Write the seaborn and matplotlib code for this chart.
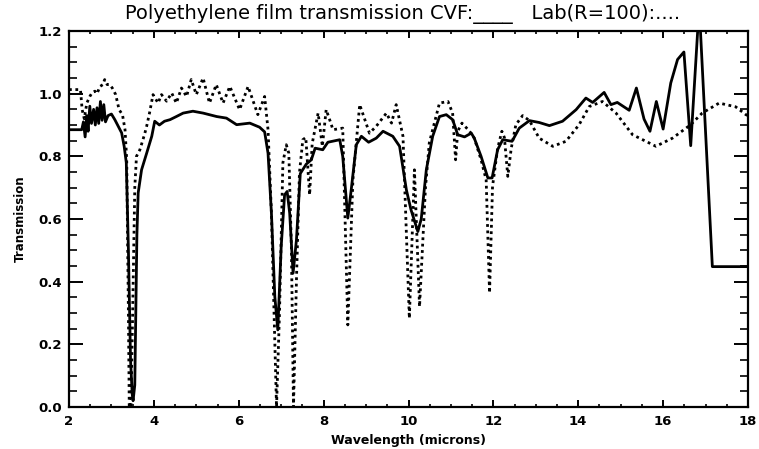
import numpy as np
import pandas as pd
import matplotlib
matplotlib.use("Agg")
import matplotlib.pyplot as plt
from matplotlib.ticker import MultipleLocator
import seaborn as sns

# ---- data ----
cvf_x = [2.00, 2.30, 2.34, 2.38, 2.42, 2.45, 2.49, 2.53, 2.58, 2.62, 2.66, 2.70, 2.74,
         2.78, 2.82, 2.86, 2.92, 3.00, 3.08, 3.16, 3.24, 3.30, 3.35, 3.40, 3.45, 3.49,
         3.51, 3.55, 3.60, 3.63, 3.71, 3.83, 3.95, 4.02, 4.13, 4.25, 4.38, 4.53, 4.69,
         4.92, 5.16, 5.48, 5.71, 5.95, 6.26, 6.49, 6.61, 6.69, 6.77, 6.85, 6.92, 7.00,
         7.08, 7.14, 7.20, 7.28, 7.36, 7.45, 7.59, 7.71, 7.80, 7.98, 8.10, 8.38, 8.45,
         8.57, 8.65, 8.77, 8.89, 9.06, 9.24, 9.40, 9.63, 9.79, 9.95, 10.06, 10.22, 10.30,
         10.42, 10.57, 10.73, 10.89, 11.04, 11.16, 11.32, 11.48, 11.55, 11.71, 11.87,
         11.97, 12.10, 12.22, 12.44, 12.61, 12.85, 13.08, 13.32, 13.63, 13.95, 14.18,
         14.34, 14.61, 14.77, 14.92, 15.20, 15.37, 15.55, 15.69, 15.84, 16.00, 16.18,
         16.34, 16.49, 16.65, 16.85, 17.16, 18.00]
cvf_y = [0.885, 0.885, 0.910, 0.862, 0.930, 0.880, 0.960, 0.905, 0.950, 0.900, 0.955,
         0.905, 0.975, 0.915, 0.965, 0.910, 0.930, 0.935, 0.917, 0.896, 0.875, 0.832,
         0.780, 0.500, 0.150, 0.040, 0.020, 0.070, 0.550, 0.683, 0.757, 0.810, 0.864,
         0.912, 0.900, 0.912, 0.917, 0.927, 0.938, 0.944, 0.938, 0.927, 0.922, 0.901,
         0.906, 0.893, 0.878, 0.810, 0.619, 0.352, 0.246, 0.512, 0.677, 0.688, 0.619,
         0.427, 0.534, 0.745, 0.775, 0.789, 0.826, 0.821, 0.845, 0.853, 0.800, 0.603,
         0.693, 0.837, 0.864, 0.845, 0.858, 0.880, 0.864, 0.832, 0.693, 0.629, 0.560,
         0.600, 0.757, 0.864, 0.927, 0.933, 0.917, 0.869, 0.862, 0.874, 0.858, 0.800,
         0.731, 0.731, 0.821, 0.853, 0.848, 0.890, 0.914, 0.908, 0.898, 0.912, 0.949,
         0.986, 0.972, 1.004, 0.965, 0.972, 0.947, 1.018, 0.919, 0.880, 0.975, 0.887,
         1.034, 1.109, 1.133, 0.834, 1.280, 0.448, 0.448]

lab_x = [2.00, 2.27, 2.31, 2.36, 2.42, 2.49, 2.54, 2.61, 2.66, 2.73, 2.80, 2.84, 2.90,
         2.96, 3.02, 3.10, 3.18, 3.26, 3.32, 3.36, 3.40, 3.42, 3.46, 3.50, 3.55, 3.59,
         3.67, 3.78, 3.83, 3.90, 3.98, 4.10, 4.18, 4.30, 4.42, 4.53, 4.65, 4.77, 4.88,
         5.00, 5.16, 5.31, 5.47, 5.63, 5.79, 6.02, 6.22, 6.45, 6.61, 6.69, 6.77, 6.89,
         6.96, 7.04, 7.12, 7.18, 7.24, 7.29, 7.36, 7.43, 7.51, 7.58, 7.67, 7.73, 7.87,
         7.97, 8.06, 8.17, 8.22, 8.45, 8.57, 8.69, 8.85, 9.08, 9.24, 9.48, 9.60, 9.71,
         9.87, 10.02, 10.14, 10.26, 10.40, 10.49, 10.73, 10.93, 11.04, 11.11, 11.16,
         11.26, 11.44, 11.55, 11.71, 11.83, 11.91, 11.98, 12.10, 12.20, 12.26, 12.34,
         12.42, 12.53, 12.69, 12.85, 13.08, 13.40, 13.71, 14.02, 14.26, 14.57, 14.89,
         15.28, 15.83, 16.22, 16.65, 16.92, 17.32, 17.71, 17.95, 18.00]
lab_y = [1.013, 1.013, 0.949, 0.920, 0.970, 0.991, 1.002, 1.008, 1.000, 1.023, 1.029,
         1.045, 1.029, 1.029, 1.018, 0.997, 0.949, 0.933, 0.885, 0.790, 0.300, 0.000,
         0.000, 0.300, 0.700, 0.800, 0.821, 0.870, 0.896, 0.940, 0.997, 0.970, 0.997,
         0.976, 1.002, 0.970, 1.018, 0.991, 1.045, 0.997, 1.050, 0.970, 1.029, 0.970,
         1.023, 0.949, 1.023, 0.933, 0.991, 0.885, 0.619, 0.000, 0.300, 0.779, 0.837,
         0.810, 0.512, 0.000, 0.406, 0.747, 0.853, 0.860, 0.677, 0.840, 0.938, 0.832,
         0.949, 0.906, 0.885, 0.890, 0.262, 0.725, 0.965, 0.874, 0.896, 0.938, 0.906,
         0.965, 0.864, 0.283, 0.757, 0.320, 0.700, 0.843, 0.970, 0.975, 0.938, 0.789,
         0.880, 0.906, 0.880, 0.858, 0.789, 0.725, 0.364, 0.704, 0.825, 0.880, 0.860,
         0.736, 0.825, 0.901, 0.930, 0.914, 0.858, 0.832, 0.848, 0.901, 0.959, 0.975,
         0.938, 0.869, 0.832, 0.858, 0.901, 0.938, 0.970, 0.958, 0.933, 0.930]

x_ticks = [2, 4, 6, 8, 10, 12, 14, 16, 18]
y_ticks = [0.0, 0.2, 0.4, 0.6, 0.8, 1.0, 1.2]
title = "Polyethylene film transmission CVF:____   Lab(R=100):...."
x_label = "Wavelength (microns)"
y_label = "Transmission"

cvf = pd.DataFrame({"x": cvf_x, "y": cvf_y})
lab = pd.DataFrame({"x": lab_x, "y": lab_y})

sns.set_style("ticks")
plt.rcParams["font.family"] = ["DejaVu Sans"]
plt.rcParams["text.color"] = "black"
plt.rcParams["axes.labelcolor"] = "black"
plt.rcParams["xtick.color"] = "black"
plt.rcParams["ytick.color"] = "black"

fig = plt.figure(figsize=(7.59, 4.49), dpi=100)
ax = fig.add_axes([69/759, 1 - 407/449, (748 - 69)/759, (407 - 31)/449])

sns.lineplot(data=lab, x="x", y="y", ax=ax, sort=False, estimator=None,
             color="black", linewidth=2.0, linestyle=(0, (1, 1.3)))
sns.lineplot(data=cvf, x="x", y="y", ax=ax, sort=False, estimator=None,
             color="black", linewidth=2.0)

ax.set_xlim(2, 18)
ax.set_ylim(0, 1.2)
ax.set_xticks(x_ticks)
ax.set_yticks(y_ticks)
ax.set_xticklabels([str(t) for t in x_ticks])
ax.set_yticklabels([f"{t:.1f}" for t in y_ticks])
ax.xaxis.set_minor_locator(MultipleLocator(0.5))
ax.yaxis.set_minor_locator(MultipleLocator(0.05))

for s in ax.spines.values():
    s.set_linewidth(1.6)
    s.set_color("black")

ax.tick_params(axis="x", which="major", direction="in", top=True, length=5,
               width=1.4, pad=6, colors="black")
ax.tick_params(axis="x", which="minor", direction="in", top=True, length=2.5,
               width=1.2, colors="black")
ax.tick_params(axis="y", which="major", direction="in", right=True, length=10,
               width=1.4, pad=5, colors="black")
ax.tick_params(axis="y", which="minor", direction="in", right=True, length=5.5,
               width=1.2, colors="black")
for lbl in ax.get_xticklabels() + ax.get_yticklabels():
    lbl.set_fontweight("bold")
    lbl.set_fontsize(9.5)
    lbl.set_color("black")

ax.set_xlabel(x_label, fontsize=9, fontweight="bold", labelpad=4, color="black")
ax.set_ylabel(y_label, fontsize=8.5, fontweight="bold", labelpad=8, color="black")

fig.text(0.530, 1 - 19/449, title, ha="center", va="baseline", fontsize=14,
         color="black")

fig.savefig("out.png", dpi=100)
